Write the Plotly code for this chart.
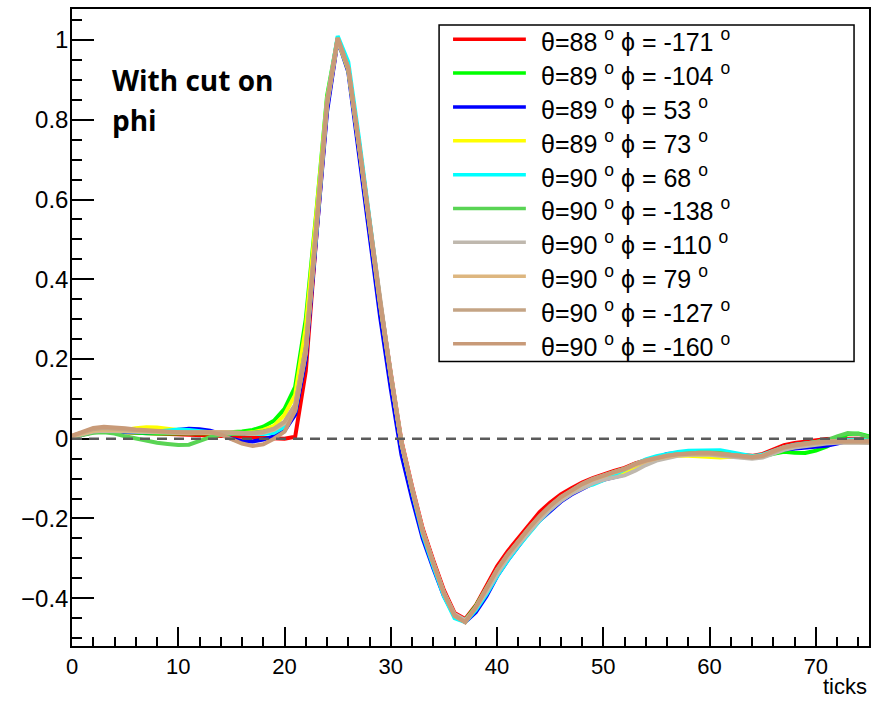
import plotly.graph_objects as go

ticks = list(range(76))

labels = [
    ("88", "-171"), ("89", "-104"), ("89", "53"), ("89", "73"), ("90", "68"),
    ("90", "-138"), ("90", "-110"), ("90", "79"), ("90", "-127"), ("90", "-160"),
]
colors = ["#FF0000", "#00FF00", "#0000FF", "#FFFF00", "#00FFFF",
          "#59D454", "#BFB8AE", "#DDB67F", "#C4A485", "#C89A78"]

y_tickvals = [-0.4, -0.2, 0, 0.2, 0.4, 0.6, 0.8, 1]
y_ticktext = ["\u22120.4", "\u22120.2", "0", "0.2", "0.4", "0.6", "0.8", "1"]

s_red = [0.004, 0.010, 0.016, 0.018, 0.017, 0.016, 0.015, 0.014, 0.013, 0.012,
         0.012, 0.011, 0.010, 0.010, 0.009, 0.007, 0.005, 0.003, 0.002, 0.001,
         0.000, 0.005, 0.17, 0.51, 0.83, 1.0, 0.93, 0.745, 0.545, 0.345,
         0.165, -0.005, -0.12, -0.225, -0.305, -0.38, -0.437, -0.452, -0.418, -0.37,
         -0.32, -0.282, -0.248, -0.214, -0.184, -0.16, -0.14, -0.124, -0.11, -0.099,
         -0.089, -0.081, -0.073, -0.062, -0.054, -0.047, -0.042, -0.038, -0.036, -0.035,
         -0.035, -0.036, -0.038, -0.041, -0.043, -0.038, -0.026, -0.016, -0.011, -0.007,
         -0.003, -0.001, 0.0, 0.001, 0.0, -0.002]
s_green = [0.006, 0.013, 0.019, 0.02, 0.018, 0.016, 0.015, 0.014, 0.013, 0.013,
           0.012, 0.012, 0.013, 0.014, 0.015, 0.016, 0.018, 0.022, 0.03, 0.045,
           0.075, 0.13, 0.30, 0.57, 0.86, 1.005, 0.925, 0.735, 0.535, 0.335,
           0.155, -0.015, -0.13, -0.235, -0.315, -0.39, -0.445, -0.455, -0.42, -0.375,
           -0.33, -0.292, -0.258, -0.226, -0.196, -0.17, -0.148, -0.13, -0.115, -0.103,
           -0.093, -0.084, -0.076, -0.064, -0.055, -0.048, -0.043, -0.039, -0.036, -0.035,
           -0.035, -0.037, -0.04, -0.043, -0.046, -0.044, -0.038, -0.033, -0.035, -0.036,
           -0.03, -0.02, -0.005, 0.012, 0.013, 0.006]
s_blue = [0.005, 0.011, 0.017, 0.019, 0.018, 0.017, 0.016, 0.016, 0.017, 0.019,
          0.022, 0.025, 0.024, 0.02, 0.012, 0.0, -0.006, -0.007, -0.002, 0.006,
          0.02, 0.06, 0.2, 0.5, 0.82, 1.0, 0.92, 0.715, 0.505, 0.305,
          0.125, -0.04, -0.15, -0.25, -0.325, -0.395, -0.445, -0.46, -0.435, -0.395,
          -0.345, -0.305, -0.27, -0.235, -0.205, -0.18, -0.158, -0.14, -0.125, -0.112,
          -0.103, -0.097, -0.09, -0.078, -0.062, -0.048, -0.038, -0.035, -0.034, -0.034,
          -0.035, -0.037, -0.04, -0.044, -0.046, -0.042, -0.033, -0.027, -0.025, -0.024,
          -0.022, -0.018, -0.012, -0.006, -0.006, -0.007]
s_yellow = [0.006, 0.014, 0.021, 0.023, 0.022, 0.022, 0.026, 0.029, 0.028, 0.025,
            0.02, 0.017, 0.015, 0.014, 0.013, 0.013, 0.014, 0.016, 0.022, 0.032,
            0.06, 0.11, 0.28, 0.56, 0.85, 1.0, 0.925, 0.735, 0.535, 0.335,
            0.155, -0.012, -0.127, -0.232, -0.312, -0.387, -0.442, -0.457, -0.425, -0.38,
            -0.333, -0.295, -0.26, -0.228, -0.197, -0.172, -0.15, -0.132, -0.117, -0.104,
            -0.095, -0.09, -0.088, -0.072, -0.058, -0.05, -0.045, -0.042, -0.043, -0.045,
            -0.047, -0.047, -0.045, -0.046, -0.047, -0.043, -0.032, -0.024, -0.019, -0.015,
            -0.011, -0.009, -0.008, -0.006, -0.006, -0.007]
s_cyan = [0.005, 0.012, 0.019, 0.021, 0.02, 0.018, 0.017, 0.017, 0.018, 0.021,
          0.023, 0.022, 0.018, 0.016, 0.015, 0.014, 0.013, 0.013, 0.012, 0.015,
          0.03, 0.07, 0.22, 0.52, 0.845, 1.01, 0.945, 0.755, 0.55, 0.345,
          0.16, -0.012, -0.13, -0.24, -0.32, -0.395, -0.45, -0.46, -0.43, -0.39,
          -0.345, -0.305, -0.27, -0.237, -0.206, -0.178, -0.155, -0.137, -0.122, -0.115,
          -0.104, -0.09, -0.078, -0.064, -0.052, -0.044, -0.038, -0.033, -0.03, -0.029,
          -0.028, -0.029, -0.034, -0.04, -0.044, -0.04, -0.03, -0.021, -0.015, -0.011,
          -0.008, -0.005, -0.003, -0.002, -0.002, -0.004]
s_ltgreen = [0.004, 0.01, 0.015, 0.016, 0.013, 0.006, 0.0, -0.006, -0.01, -0.013,
             -0.016, -0.015, -0.006, 0.004, 0.01, 0.013, 0.014, 0.015, 0.018, 0.024,
             0.04, 0.08, 0.23, 0.535, 0.84, 1.005, 0.93, 0.74, 0.54, 0.34,
             0.16, -0.01, -0.128, -0.233, -0.313, -0.388, -0.443, -0.458, -0.422, -0.377,
             -0.33, -0.292, -0.258, -0.226, -0.196, -0.17, -0.148, -0.13, -0.115, -0.102,
             -0.092, -0.084, -0.076, -0.064, -0.055, -0.048, -0.043, -0.039, -0.036, -0.035,
             -0.035, -0.036, -0.04, -0.043, -0.046, -0.043, -0.032, -0.023, -0.017, -0.013,
             -0.009, -0.004, 0.006, 0.014, 0.012, 0.004]
s_gray = [0.005, 0.012, 0.018, 0.02, 0.019, 0.018, 0.017, 0.016, 0.015, 0.015,
          0.014, 0.014, 0.015, 0.016, 0.016, 0.015, 0.013, 0.012, 0.015, 0.022,
          0.038, 0.075, 0.215, 0.525, 0.835, 1.0, 0.93, 0.74, 0.54, 0.34,
          0.16, -0.01, -0.125, -0.23, -0.31, -0.385, -0.44, -0.455, -0.425, -0.385,
          -0.34, -0.3, -0.266, -0.234, -0.204, -0.178, -0.156, -0.138, -0.124, -0.112,
          -0.103, -0.098, -0.092, -0.08, -0.066, -0.055, -0.048, -0.043, -0.04, -0.039,
          -0.04, -0.043, -0.046, -0.048, -0.05, -0.047, -0.037, -0.028, -0.022, -0.018,
          -0.015, -0.012, -0.01, -0.009, -0.01, -0.011]
s_tan = [0.006, 0.013, 0.02, 0.022, 0.021, 0.019, 0.018, 0.017, 0.016, 0.016,
         0.015, 0.015, 0.016, 0.017, 0.017, 0.016, 0.014, 0.013, 0.016, 0.024,
         0.042, 0.085, 0.225, 0.535, 0.845, 1.005, 0.93, 0.74, 0.54, 0.34,
         0.16, -0.01, -0.127, -0.232, -0.312, -0.388, -0.444, -0.46, -0.423, -0.378,
         -0.33, -0.292, -0.258, -0.226, -0.196, -0.17, -0.148, -0.13, -0.115, -0.103,
         -0.093, -0.085, -0.077, -0.066, -0.057, -0.05, -0.045, -0.041, -0.039, -0.038,
         -0.038, -0.039, -0.041, -0.044, -0.046, -0.042, -0.031, -0.022, -0.017, -0.013,
         -0.009, -0.007, -0.006, -0.005, -0.005, -0.006]
s_graytan = [0.007, 0.015, 0.024, 0.027, 0.025, 0.022, 0.02, 0.018, 0.017, 0.016,
             0.016, 0.015, 0.015, 0.016, 0.016, 0.015, 0.014, 0.014, 0.017, 0.025,
             0.043, 0.085, 0.23, 0.54, 0.85, 1.005, 0.93, 0.74, 0.54, 0.34,
             0.158, -0.012, -0.128, -0.233, -0.313, -0.388, -0.445, -0.46, -0.422, -0.376,
             -0.328, -0.29, -0.256, -0.224, -0.194, -0.168, -0.146, -0.128, -0.113, -0.101,
             -0.091, -0.083, -0.075, -0.063, -0.054, -0.047, -0.042, -0.039, -0.037, -0.037,
             -0.038, -0.04, -0.043, -0.046, -0.048, -0.044, -0.033, -0.023, -0.018, -0.014,
             -0.011, -0.009, -0.008, -0.007, -0.008, -0.009]
s_brown = [0.008, 0.018, 0.027, 0.03, 0.029, 0.026, 0.023, 0.021, 0.019, 0.017,
           0.016, 0.016, 0.017, 0.016, 0.01, 0.0, -0.012, -0.018, -0.014, 0.0,
           0.018, 0.07, 0.215, 0.525, 0.84, 1.005, 0.93, 0.74, 0.54, 0.34,
           0.16, -0.01, -0.126, -0.231, -0.311, -0.387, -0.443, -0.46, -0.423, -0.377,
           -0.329, -0.291, -0.257, -0.225, -0.195, -0.169, -0.147, -0.129, -0.114, -0.102,
           -0.092, -0.084, -0.076, -0.064, -0.055, -0.048, -0.043, -0.039, -0.036, -0.035,
           -0.035, -0.037, -0.04, -0.043, -0.046, -0.043, -0.031, -0.021, -0.016, -0.012,
           -0.009, -0.007, -0.006, -0.005, -0.005, -0.006]

series = [s_red, s_green, s_blue, s_yellow, s_cyan,
          s_ltgreen, s_gray, s_tan, s_graytan, s_brown]
for s in series:
    assert len(s) == len(ticks), len(s)

x_range = [0, 75]
y_range = [-0.52, 1.078]

fig = go.Figure()
for (th, ph), col, ys in zip(labels, colors, series):
    fig.add_trace(go.Scatter(
        x=ticks, y=ys, mode="lines",
        line=dict(color=col, width=4),
        name=f"θ={th}° ϕ = {ph}°", showlegend=False,
    ))

# dashed zero line
fig.add_shape(type="line", xref="x", yref="y", x0=x_range[0], x1=x_range[1],
              y0=0, y1=0, line=dict(color="#5a5a5a", width=2.5, dash="10px,7px"),
              layer="above")

# manual ROOT-style legend
PL, PR, PT, PB = 72, 871, 8, 646
W, H = PR - PL, PB - PT
def px(xp):
    return (xp - PL) / W
def py(yp):
    return (PB - yp) / H

fig.add_shape(type="rect", xref="paper", yref="paper",
              x0=px(440), x1=px(856), y0=py(361), y1=py(24),
              line=dict(color="#000000", width=1.5), fillcolor="white", layer="above")
row0, drow = 38.3, 33.9
for i, ((th, ph), col) in enumerate(zip(labels, colors)):
    yc = row0 + drow * i
    fig.add_shape(type="line", xref="paper", yref="paper",
                  x0=px(454), x1=px(527), y0=py(yc), y1=py(yc),
                  line=dict(color=col, width=3.5), layer="above")
    fig.add_annotation(xref="paper", yref="paper", x=px(540), y=py(yc + 1),
                       xanchor="left", yanchor="middle", showarrow=False,
                       text=f"θ={th} <sup>o</sup> ϕ = {ph} <sup>o</sup>",
                       font=dict(family="Liberation Sans", size=25, color="#000"))

# text label
fig.add_annotation(xref="paper", yref="paper", x=px(110), y=py(58),
                   xanchor="left", yanchor="top", showarrow=False,
                   text="<b>With cut on</b>",
                   font=dict(family="Open Sans", size=28, color="#000"))
fig.add_annotation(xref="paper", yref="paper", x=px(110), y=py(98),
                   xanchor="left", yanchor="top", showarrow=False,
                   text="<b>phi</b>",
                   font=dict(family="Open Sans", size=28, color="#000"))
# x axis title
fig.add_annotation(xref="paper", yref="paper", x=1.0, y=py(687),
                   xanchor="right", yanchor="middle", showarrow=False,
                   text="ticks",
                   font=dict(family="Liberation Sans", size=22, color="#000"))

axis_common = dict(
    showgrid=False, zeroline=False, showline=True, linecolor="#000", linewidth=1.5,
    mirror=True, ticks="inside", tickcolor="#000", tickwidth=1.5,
)
fig.update_xaxes(range=x_range, dtick=10, tick0=0, ticklen=19,
                 tickfont=dict(family="Liberation Sans", size=22, color="#000"),
                 minor=dict(dtick=2, ticks="inside", ticklen=9, tickcolor="#000", tickwidth=1.5),
                 **axis_common)
fig.update_yaxes(range=y_range, tickmode="array", tickvals=y_tickvals, ticktext=y_ticktext,
                 ticklen=22, ticklabelstandoff=-3,
                 tickfont=dict(family="Liberation Sans", size=24, color="#000"),
                 minor=dict(tickmode="linear", tick0=0, dtick=0.05, ticks="inside", ticklen=10,
                            tickcolor="#000", tickwidth=1.5),
                 **axis_common)

fig.update_layout(
    width=878, height=702,
    margin=dict(l=PL, r=878 - PR, t=PT, b=702 - PB),
    plot_bgcolor="white", paper_bgcolor="white",
    showlegend=False,
)

fig.write_html("out.html")
